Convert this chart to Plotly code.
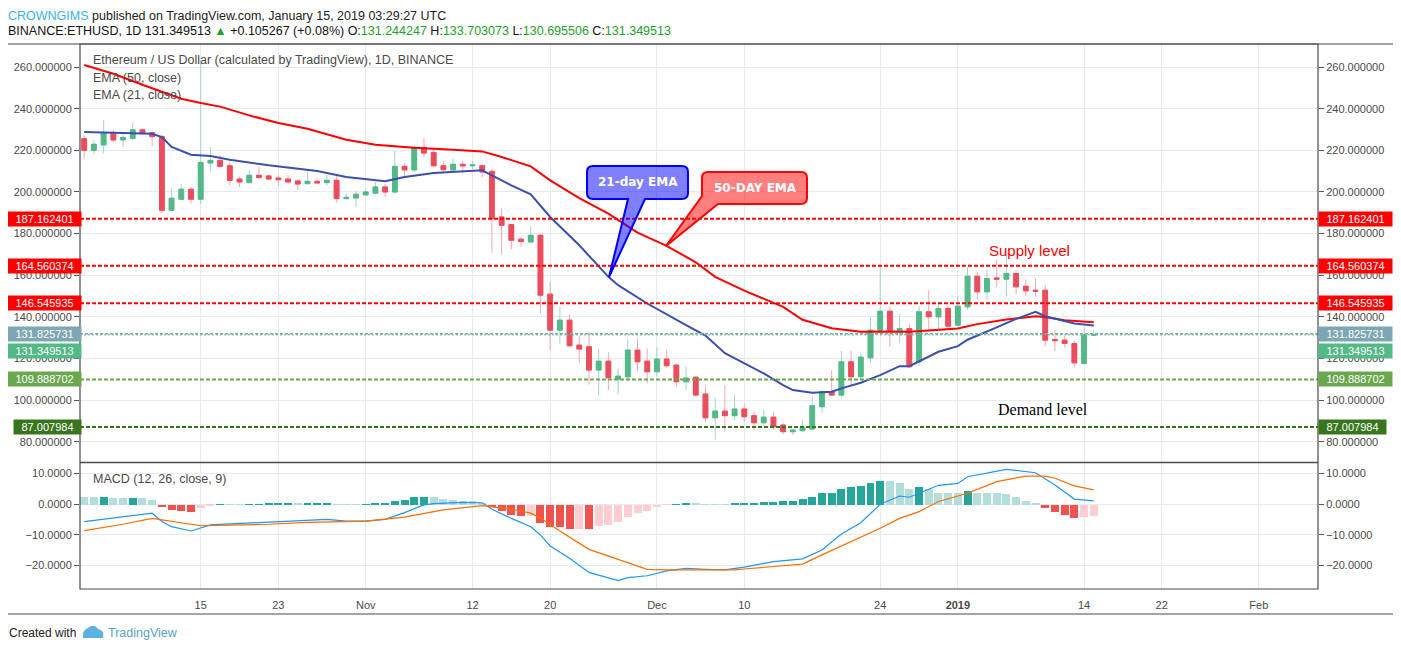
import pandas as pd
import plotly.graph_objects as go

# ---------------- data ----------------
start_date = "2018-10-03"
opens = [225.6, 220, 222.6, 228.6, 225, 225.8, 229.9, 228.5, 226.6, 191.2, 196.5, 201.3, 196.5, 213.9, 215.2, 212.6,
         206.2, 204.5, 208, 207.7, 206.7, 206.2, 205.3, 204, 205.1, 204.5, 205.6, 196.8, 197.1,
         198.6, 199.4, 202.4, 200, 212.3, 210.6, 221.3, 219, 212.6, 210.6, 213.3, 212.6, 212.6, 209.9, 188, 184.3,
         177.3, 176, 179.2, 150.9, 133.6, 138.4, 126.4, 125.6, 114.4, 118.7, 110.1, 111.2, 124, 118.7,
         113.6, 119.7, 116.8, 108.8, 111, 102.9, 91.5, 94.7, 92.5, 95.7, 92.5, 89.1, 91.8, 88, 84.8, 85.3, 86.1,
         96.8, 104, 102.4, 118.4, 111.2, 120.3, 133.6, 142.7, 132.8, 134.4, 118.4, 142.4, 140, 144,
         136, 144.8, 159.5, 152, 158.7, 158.1, 160.8, 154.7, 152.8, 152.8, 129.1, 128.8, 127.2, 117.6, 131.244247]
highs = [227.2, 224.8, 234.7, 229.6, 227.7, 233.4, 230.6, 229.1, 227.5, 201.8, 203.7, 202.4, 262, 221.6, 217.6, 214.2,
         207.5, 210.4, 212.3, 208.5, 208, 208, 206, 209.9, 206.9, 208.2, 208, 199.2, 200.5,
         201.4, 204.8, 204, 219.7, 213.9, 222.4, 225.9, 220.8, 214.9, 216, 214.9, 214.9, 213.6, 211.2, 192, 184.5,
         178.4, 183.5, 180, 156.8, 144.8, 141.1, 130.9, 132.8, 124.8, 122.9, 115.2, 129.1, 129.6, 124.8,
         125.3, 124, 117.6, 116, 111.5, 107.2, 101, 107.2, 102.7, 98.1, 94.4, 95.2, 94.1, 89.1, 86, 90.4, 101.9,
         104.8, 114.4, 123.7, 123.7, 122.4, 139.7, 164.8, 144.8, 141.3, 136.8, 145.3, 152.8, 146.1, 145.3,
         149.9, 164, 161.6, 162.7, 167.5, 170.1, 162.4, 157.9, 158.4, 155.2, 133.6, 130.7, 128.5, 134.9, 133.703073]
lows = [216, 218.4, 218.4, 224, 221.6, 224.8, 227.5, 222.1, 189.9, 190.9, 196.5, 194.4, 194.1, 209.6, 211.5, 203.2,
        202.4, 204, 206, 205.6, 202.9, 204.5, 201, 203.5, 203.7, 203, 195, 196.3, 192.8,
        198.2, 198.9, 197.6, 199.2, 207.5, 209.6, 216.8, 212, 209.6, 209.6, 208.8, 211.2, 207.2, 170.7, 170.1, 172.5,
        173.6, 175.5, 141.6, 124, 127.2, 125.6, 117.9, 107.5, 102.2, 104.8, 102.6, 108.8, 114.1, 108,
        111.2, 115.2, 106.4, 104.8, 102, 89.6, 81, 84.8, 90.4, 89.9, 85.3, 88, 85.6, 83.5, 83.2, 84.8, 85.6,
        93.9, 102.1, 101.1, 107.2, 109.6, 117.9, 133, 125.6, 127.5, 115.5, 116.3, 132.8, 133.9, 133.6,
        134.1, 143.2, 148, 148.3, 154.4, 150, 150.9, 149.9, 149.6, 125.9, 123.7, 125.3, 116, 117.3, 130.695506]
closes = [220, 222.9, 228.6, 225, 226.2, 229.9, 228.2, 226.6, 191.2, 197, 201.3, 196.5, 214.2, 215.2, 212.3, 205.6,
          204.8, 208, 207, 206.2, 205.9, 204.8, 203.8, 205.1, 204.3, 205.6, 196.8, 197.4, 198.9,
          200, 202.4, 200, 212.3, 210.6, 221.3, 218.7, 212.6, 210.7, 213.3, 212.5, 213, 209.6, 187.2, 184, 176.8,
          176.2, 179.2, 150.4, 133.6, 138.4, 126.1, 124.5, 114.4, 118.7, 110.7, 111.5, 124, 118.4, 113.6,
          119.7, 116.5, 108.8, 110.6, 102.4, 91.5, 94.7, 92.5, 95.7, 92, 89.1, 91.8, 87.2, 84.8, 85.6, 86.7, 97.3,
          104, 102.4, 118.4, 111.2, 120.6, 133.6, 142.7, 133.3, 134.4, 116, 142.4, 140, 144, 135.5,
          145.1, 159.5, 152, 158.4, 158.1, 160.8, 154.4, 152.5, 152.3, 128.8, 128.5, 127.2, 117.9, 131.244247, 131.349513]

ema50_dates = ["2018-10-03", "2018-10-06", "2018-10-09", "2018-10-13", "2018-10-15", "2018-10-17", "2018-10-20",
               "2018-10-23", "2018-10-26", "2018-10-30", "2018-11-02", "2018-11-06", "2018-11-10", "2018-11-13",
               "2018-11-15", "2018-11-18", "2018-11-20", "2018-11-23", "2018-11-26", "2018-11-29", "2018-12-02",
               "2018-12-05", "2018-12-07", "2018-12-10", "2018-12-14", "2018-12-16", "2018-12-19", "2018-12-22",
               "2018-12-24", "2018-12-27", "2019-01-01", "2019-01-03", "2019-01-06", "2019-01-09", "2019-01-10",
               "2019-01-12", "2019-01-15"]
ema50_values = [261.0, 256.8, 251.5, 244.8, 242.7, 241.0, 236.8, 233.1, 230.4, 225.1, 222.7, 221.3, 220.3, 219.5,
                216.8, 212.3, 205.6, 197.0, 189.6, 180.5, 174.1, 166.2, 159.2, 152.6, 144.8, 138.6, 134.5, 132.8,
                133.0, 132.8, 134.4, 136.5, 138.7, 140.3, 139.9, 138.3, 137.4]

ema21_dates = ["2018-10-03", "2018-10-10", "2018-10-11", "2018-10-12", "2018-10-14", "2018-10-16", "2018-10-18",
               "2018-10-22", "2018-10-27", "2018-10-30", "2018-11-03", "2018-11-05", "2018-11-08", "2018-11-10",
               "2018-11-13", "2018-11-14", "2018-11-16", "2018-11-18", "2018-11-20", "2018-11-23", "2018-11-26",
               "2018-11-27", "2018-11-30", "2018-12-04", "2018-12-06", "2018-12-08", "2018-12-10", "2018-12-12",
               "2018-12-14", "2018-12-15", "2018-12-17", "2018-12-19", "2018-12-20", "2018-12-22", "2018-12-24",
               "2018-12-26", "2018-12-27", "2018-12-30", "2019-01-01", "2019-01-02", "2019-01-05", "2019-01-07",
               "2019-01-09", "2019-01-10", "2019-01-13", "2019-01-15"]
ema21_values = [228.8, 228.0, 226.4, 221.6, 217.9, 217.3, 215.5, 212.8, 210.1, 207.2, 205.1, 207.2, 209.1, 209.6,
                210.4, 208.0, 203.2, 198.9, 188.0, 174.4, 159.2, 155.2, 146.4, 136.0, 131.0, 122.5, 117.6, 112.8,
                107.2, 104.8, 103.5, 104.0, 105.6, 108.3, 112.0, 116.3, 116.3, 123.2, 125.9, 129.0, 134.9, 139.0,
                142.4, 140.3, 136.8, 135.8]

macd_dates = ["2018-10-03", "2018-10-07", "2018-10-10", "2018-10-11", "2018-10-12", "2018-10-14", "2018-10-16",
              "2018-10-18", "2018-10-22", "2018-10-24", "2018-10-28", "2018-10-30", "2018-11-01", "2018-11-03",
              "2018-11-05", "2018-11-07", "2018-11-08", "2018-11-11", "2018-11-13", "2018-11-14", "2018-11-16",
              "2018-11-18", "2018-11-19", "2018-11-20", "2018-11-22", "2018-11-24", "2018-11-27", "2018-11-28",
              "2018-11-30", "2018-12-02", "2018-12-04", "2018-12-06", "2018-12-08", "2018-12-10", "2018-12-13",
              "2018-12-16", "2018-12-18", "2018-12-20", "2018-12-22", "2018-12-24", "2018-12-26", "2018-12-27",
              "2018-12-30", "2019-01-01", "2019-01-02", "2019-01-06", "2019-01-09", "2019-01-11", "2019-01-13",
              "2019-01-15"]
macd_values = [-5.65, -4.2, -2.9, -5.6, -7.3, -8.7, -6.7, -6.4, -5.9, -5.5, -4.9, -5.5, -5.5, -4.9, -2.7, -0.2, 0.2,
               0.65, 0.5, -1.6, -4.6, -7.3, -10.0, -13.6, -17.6, -22.2, -24.9, -23.9, -23.3, -21.7, -20.9, -21.2,
               -21.4, -20.5, -18.7, -17.8, -14.9, -9.7, -6.0, 0.0, 2.7, 2.3, 6.2, 6.8, 9.0, 11.4, 10.3, 6.3, 1.7, 1.1]

signal_dates = ["2018-10-03", "2018-10-07", "2018-10-10", "2018-10-12", "2018-10-15", "2018-10-18", "2018-10-22",
                "2018-10-26", "2018-11-01", "2018-11-05", "2018-11-09", "2018-11-13", "2018-11-16", "2018-11-18",
                "2018-11-19", "2018-11-20", "2018-11-21", "2018-11-24", "2018-11-28", "2018-11-30", "2018-12-02",
                "2018-12-09", "2018-12-10", "2018-12-16", "2018-12-18", "2018-12-20", "2018-12-24", "2018-12-26",
                "2018-12-28", "2018-12-30", "2019-01-02", "2019-01-05", "2019-01-08", "2019-01-10", "2019-01-11",
                "2019-01-13", "2019-01-15"]
signal_values = [-8.6, -6.5, -4.6, -5.6, -7.0, -6.8, -6.5, -5.9, -5.5, -4.2, -1.8, -0.4, -1.6, -2.9, -4.5, -6.6,
                 -8.7, -14.7, -19.2, -21.2, -21.4, -21.4, -21.1, -19.5, -16.5, -13.6, -7.8, -4.6, -2.4, 0.9, 3.6,
                 7.4, 9.2, 9.2, 8.5, 6.0, 4.7]

hist_values = [2.7, 2.5, 2.55, 2.2, 2.15, 2.2, 2.15, 1.6, -0.8, -1.6, -2.0, -2.4, -1.1, -0.4, 0.1, 0.05, 0.02,
               0.2, 0.25, 0.4, 0.42, 0.45, 0.4, 0.45, 0.46, 0.47, 0.2, 0.05, 0.02,
               0.2, 0.5, 0.55, 1.1, 1.7, 2.4, 2.7, 2.4, 2.0, 1.5, 1.4, 1.3, 0.6, -0.8, -2.1, -3.2, -3.8, -3.7,
               -6.0, -7.2, -7.3, -8.0, -7.95, -8.05, -7.0, -6.7, -5.7, -4.0, -2.7, -2.1,
               -0.8, -0.05, 0.2, 0.5, 0.45, 0.05, 0.03, 0.02, 0.5, 0.55, 0.75, 1.0, 1.05, 1.1, 1.4, 1.75, 2.4,
               3.7, 4.0, 5.3, 5.65, 6.0, 7.0, 7.9, 7.6, 7.0, 5.3, 5.65, 5.0, 4.0, 3.95,
               3.9, 4.35, 4.0, 3.95, 3.7, 3.4, 2.4, 1.4, 0.75, -1.1, -2.4, -3.4, -4.35, -4.0, -3.7]

level_values = [187.162401, 164.560374, 146.545935, 131.825731, 131.349513, 109.888702, 87.007984]
price_ticks = [80, 100, 120, 140, 160, 180, 200, 220, 240, 260]
macd_ticks = [-20, -10, 0, 10]
x_tick_dates = ["2018-10-15", "2018-10-23", "2018-11-01", "2018-11-12", "2018-11-20", "2018-12-01",
                "2018-12-10", "2018-12-24", "2019-01-01", "2019-01-14", "2019-01-22", "2019-02-01"]
x_tick_labels = ["15", "23", "Nov", "12", "20", "Dec", "10", "24", "<b>2019</b>", "14", "22", "Feb"]

dates = pd.date_range(start_date, periods=len(opens), freq="D")

# ---------------- geometry / style ----------------
# the page body adds an 8 px offset; all pixel positions below are given in
# screen pixels and converted with OFF
OFF = 8
W, H = 1401 - OFF, 651 - OFF
ML, MT = 80 - OFF, 44 - OFF
MR, MB = 1401 - 1318, 651 - 589
PW, PH = W - ML - MR, H - MT - MB
SPLIT = (H - MB - (462.5 - OFF)) / PH


def px(x):
    return (x - OFF - ML) / PW


def py(y):
    return (H - MB - (y - OFF)) / PH


FONT = "Liberation Sans, Arial, sans-serif"
TXT = "#4a4a4a"
GRID = "#e3ebf1"
UP, DOWN = "#53b987", "#eb4d5c"
UP_W, DOWN_W = "#a5d3cc", "#f2a8b0"

fig = go.Figure()

# wicks (light)
fig.add_trace(go.Candlestick(
    x=dates, open=opens, high=highs, low=lows, close=closes,
    increasing=dict(line=dict(color=UP_W, width=1), fillcolor=UP_W),
    decreasing=dict(line=dict(color=DOWN_W, width=1), fillcolor=DOWN_W),
    whiskerwidth=0, showlegend=False, hoverinfo="skip", xaxis="x", yaxis="y"))
# bodies
fig.add_trace(go.Candlestick(
    x=dates, open=opens, close=closes,
    high=[max(o, c) for o, c in zip(opens, closes)],
    low=[min(o, c) for o, c in zip(opens, closes)],
    increasing=dict(line=dict(color=UP, width=1), fillcolor=UP),
    decreasing=dict(line=dict(color=DOWN, width=1), fillcolor=DOWN),
    whiskerwidth=0, showlegend=False, xaxis="x", yaxis="y"))

fig.add_trace(go.Scatter(x=pd.to_datetime(ema50_dates), y=ema50_values, mode="lines",
                         line=dict(color="#ff0000", width=2), showlegend=False, xaxis="x", yaxis="y"))
fig.add_trace(go.Scatter(x=pd.to_datetime(ema21_dates), y=ema21_values, mode="lines",
                         line=dict(color="#3c4fae", width=2), showlegend=False, xaxis="x", yaxis="y"))

# MACD histogram colours from the data
DARK_T, LIGHT_T, RED_H, PINK_H = "#26a69a", "#b2dfdb", "#ef5350", "#ffcdd2"
hist_colors = []
prev = None
for h in hist_values:
    if h >= 0:
        hist_colors.append(DARK_T if (prev is not None and h > prev) else LIGHT_T)
    else:
        hist_colors.append(RED_H if (prev is None or h < prev) else PINK_H)
    prev = h

fig.add_trace(go.Bar(x=dates, y=hist_values, marker=dict(color=hist_colors, line=dict(width=0)),
                     width=0.82 * 86400000, showlegend=False, xaxis="x", yaxis="y2"))
fig.add_trace(go.Scatter(x=pd.to_datetime(macd_dates), y=macd_values, mode="lines",
                         line=dict(color="#2196f3", width=1.2), showlegend=False, xaxis="x", yaxis="y2"))
fig.add_trace(go.Scatter(x=pd.to_datetime(signal_dates), y=signal_values, mode="lines",
                         line=dict(color="#ff6d00", width=1.2), showlegend=False, xaxis="x", yaxis="y2"))

# invisible traces so the right-hand axes render
fig.add_trace(go.Scatter(x=[dates[0]], y=[200], mode="markers", marker=dict(opacity=0),
                         showlegend=False, hoverinfo="skip", xaxis="x", yaxis="y3"))
fig.add_trace(go.Scatter(x=[dates[0]], y=[0], mode="markers", marker=dict(opacity=0),
                         showlegend=False, hoverinfo="skip", xaxis="x", yaxis="y4"))

x_range = ["2018-10-02 13:35", "2019-02-07 02:24"]
p_range = [70.0, 271.1]
m_range = [-27.62, 13.63]

tickfont = dict(family=FONT, size=11, color=TXT)
yax_common = dict(showgrid=True, gridcolor=GRID, gridwidth=1, zeroline=False, ticks="outside", ticklen=5,
                  tickcolor="#555555", tickfont=tickfont, showline=False, fixedrange=True)

fig.update_layout(
    width=W, height=H, margin=dict(l=ML, r=MR, t=MT, b=MB, autoexpand=False),
    paper_bgcolor="white", plot_bgcolor="white", showlegend=False, bargap=0,
    xaxis=dict(domain=[0, 1], anchor="y2", type="date", range=x_range, tickvals=x_tick_dates,
               ticktext=x_tick_labels, showgrid=True, gridcolor=GRID, gridwidth=1, ticks="outside",
               ticklen=6, tickcolor="rgba(0,0,0,0)", tickfont=tickfont, showline=False, zeroline=False,
               rangeslider=dict(visible=False)),
    yaxis=dict(domain=[SPLIT, 1], anchor="x", side="left", range=p_range, tickvals=price_ticks,
               tickformat=".6f", **yax_common),
    yaxis2=dict(domain=[0, SPLIT], anchor="x", side="left", range=m_range, tickvals=macd_ticks,
                tickformat=".4f", **yax_common),
    yaxis3=dict(overlaying="y", anchor="x", side="right", range=p_range, tickvals=price_ticks,
                tickformat=".6f", **{**yax_common, "showgrid": False}),
    yaxis4=dict(overlaying="y2", anchor="x", side="right", range=m_range, tickvals=macd_ticks,
                tickformat=".4f", **{**yax_common, "showgrid": False}),
)

shapes = []
# horizontal levels
level_styles = [("#ff0000", 2, "4px,2px"), ("#ff0000", 2, "4px,2px"), ("#ff0000", 2, "4px,2px"),
                ("#7fa6b0", 1.5, "3px,2px"), ("#53b987", 1, "2px,2px"), ("#6aa84f", 2, "4px,2px"),
                ("#38761d", 2, "4px,2px")]
for v, (c, w, d) in zip(level_values, level_styles):
    shapes.append(dict(type="line", xref="paper", x0=0, x1=1, yref="y", y0=v, y1=v,
                       line=dict(color=c, width=w, dash=d), layer="above"))

# frames
FR = "#4a4a4a"
shapes.append(dict(type="rect", xref="paper", yref="paper", x0=0, x1=1, y0=0, y1=1,
                   line=dict(color=FR, width=1.2)))
shapes.append(dict(type="line", xref="paper", yref="paper", x0=0, x1=1, y0=SPLIT, y1=SPLIT,
                   line=dict(color=FR, width=1.5)))
shapes.append(dict(type="line", xref="paper", yref="paper", x0=px(5), x1=px(1396), y0=py(614), y1=py(614),
                   line=dict(color=FR, width=1.2)))
shapes.append(dict(type="line", xref="paper", yref="paper", x0=px(5), x1=px(1396), y0=py(44), y1=py(44),
                   line=dict(color=FR, width=1.2)))


def bubble(x0, y0, x1, y1, r, pointer, fill, line):
    P = lambda x, y: f"{px(x):.5f},{py(y):.5f}"
    path = f"M{P(x0 + r, y0)} L{P(x1 - r, y0)} Q{P(x1, y0)} {P(x1, y0 + r)} L{P(x1, y1 - r)} "
    path += f"Q{P(x1, y1)} {P(x1 - r, y1)} "
    for (x, y) in pointer:
        path += f"L{P(x, y)} "
    if pointer[-1][1] == y1:
        path += f"L{P(x0 + r, y1)} Q{P(x0, y1)} {P(x0, y1 - r)} "
    path += f"L{P(x0, y0 + r)} Q{P(x0, y0)} {P(x0 + r, y0)} Z"
    return dict(type="path", xref="paper", yref="paper", path=path, fillcolor=fill,
                line=dict(color=line, width=2), layer="above")


shapes.append(bubble(587, 166, 688, 199, 6, [(645, 199), (609, 277), (628, 199)],
                     "rgba(0,0,255,0.5)", "#0000ff"))
shapes.append(bubble(702, 172, 807, 204, 6, [(718, 204), (666, 246), (702, 196)],
                     "rgba(255,0,0,0.5)", "#ff0000"))

annotations = []


def txt(x, y, text, size=12.5, color=TXT, anchor="left", family=FONT, **kw):
    annotations.append(dict(xref="paper", yref="paper", x=px(x), y=py(y), text=text, showarrow=False,
                            xanchor=anchor, yanchor="middle", font=dict(family=family, size=size, color=color),
                            **kw))


GREEN = "#1f9e2c"
txt(6, 16, "<span style='color:#3bb3e4'>CROWNGIMS</span> published on TradingView.com, January 15, 2019 03:29:27 UTC",
    size=12.5, color="#222222")
txt(6, 31, "BINANCE:ETHUSD, 1D 131.349513 <span style='color:%s'>▲</span> +0.105267 (+0.08%%) "
           "O:<span style='color:%s'>131.244247</span> H:<span style='color:%s'>133.703073</span> "
           "L:<span style='color:%s'>130.695506</span> C:<span style='color:%s'>131.349513</span>"
    % (GREEN, GREEN, GREEN, GREEN, GREEN), size=12.5, color="#111111")
txt(91, 60, "Ethereum / US Dollar (calculated by TradingView), 1D, BINANCE", size=12.5)
txt(91, 78, "EMA (50, close)", size=12.5)
txt(91, 95, "EMA (21, close)", size=12.5)
txt(91, 479, "MACD (12, 26, close, 9)", size=12.5)
txt(638, 182, "<b>21-day EMA</b>", size=12, color="white", anchor="center", family="DejaVu Sans, sans-serif")
txt(755, 188, "<b>50-DAY EMA</b>", size=12, color="white", anchor="center", family="DejaVu Sans, sans-serif")
txt(1029, 250, "Supply level", size=15, color="#ff0000", anchor="center")
txt(1043, 410, "Demand level", size=16, color="#000000", anchor="center",
    family="Liberation Serif, Times New Roman, serif")
txt(7, 633, "Created with", size=12, color="#222222")
txt(106, 633, "TradingView", size=12.5, color="#5b9fc8")
shapes.append(dict(type="path", xref="paper", yref="paper",
                   path=f"M{px(83):.5f},{py(638):.5f} L{px(103):.5f},{py(638):.5f} "
                        f"Q{px(105):.5f},{py(630):.5f} {px(98):.5f},{py(629):.5f} "
                        f"Q{px(94):.5f},{py(623):.5f} {px(88):.5f},{py(628):.5f} "
                        f"Q{px(82):.5f},{py(630):.5f} {px(83):.5f},{py(638):.5f} Z",
                   fillcolor="#5bb2e0", line=dict(width=0)))

# price labels on both axes
label_colors = ["#ff0000", "#ff0000", "#ff0000", "#7ea7b3", "#53b987", "#6aa84f", "#38761d"]
label_shift = [0, 0, 0, 0, -16.5, 0, 0]


def lw(s):
    return sum(3.06 if ch == "." else 6.12 for ch in s) + 13


for v, c, sh in zip(level_values, label_colors, label_shift):
    s = f"{v:.6f}"
    for side in ("left", "right"):
        annotations.append(dict(
            xref="paper", yref="y", x=0 if side == "left" else 1, y=v, yshift=sh,
            xanchor="right" if side == "left" else "left", xshift=2 if side == "left" else 0,
            text=s, showarrow=False, bgcolor=c, borderpad=1, width=lw(s),
            font=dict(family=FONT, size=11, color="white")))

fig.update_layout(shapes=shapes, annotations=annotations)
fig.write_html("out.html")
